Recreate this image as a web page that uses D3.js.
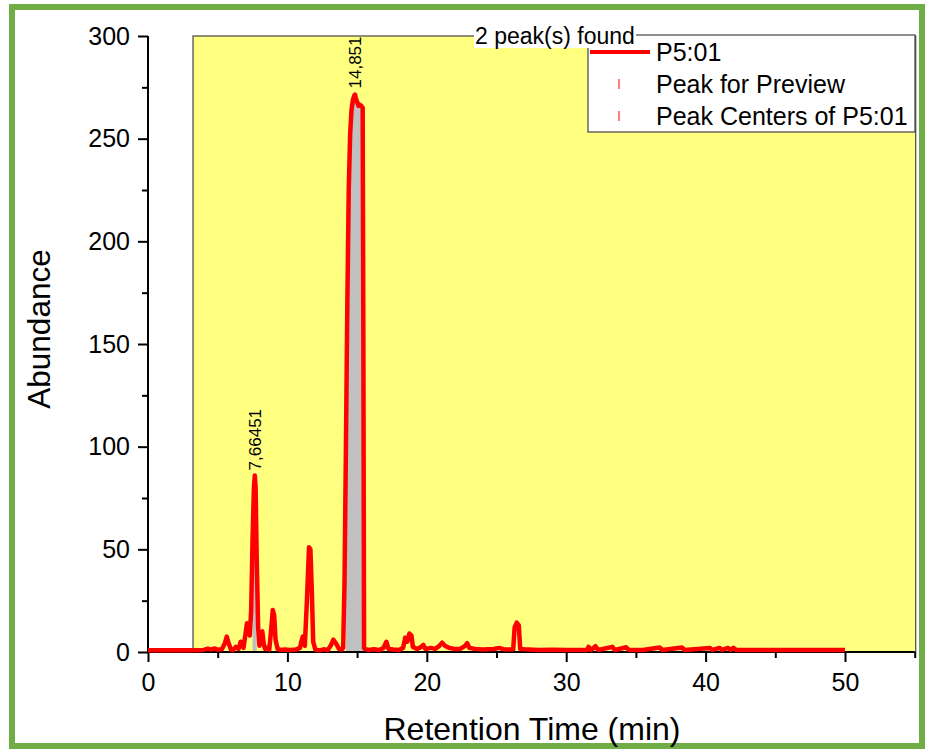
<!DOCTYPE html>
<html>
<head>
<meta charset="utf-8">
<script src="https://cdn.jsdelivr.net/npm/d3@7"></script>
<style>
  html, body { margin: 0; padding: 0; background: #fff; }
  svg { display: block; font-family: "Liberation Sans", Arial, sans-serif; }
</style>
</head>
<body>
<div id="chart"></div>
<script>
// chromatogram P5:01 as [time, abundance]
const times = [0, 1, 2, 3, 4, 4.3, 4.5, 4.8, 5.0, 5.3, 5.5, 5.65, 5.8, 5.95, 6.1, 6.3, 6.5, 6.65, 6.75, 6.85,
  7.0, 7.1, 7.2, 7.3, 7.4, 7.5, 7.6, 7.66, 7.72, 7.8, 7.9, 8.0, 8.1, 8.2, 8.3, 8.4, 8.55, 8.7, 8.85, 8.95,
  9.05, 9.15, 9.3, 9.5, 9.8, 10.2, 10.6, 10.9, 11.0, 11.1, 11.25, 11.4, 11.55, 11.65, 11.75, 11.85, 12.0, 12.3, 12.6, 12.9,
  13.1, 13.3, 13.5, 13.7, 13.9, 14.0, 14.1, 14.2, 14.3, 14.4, 14.5, 14.6, 14.7, 14.8, 14.85, 14.9, 15.0, 15.1, 15.2, 15.3,
  15.4, 15.45, 15.5, 15.55, 15.8, 16.2, 16.6, 16.9, 17.1, 17.25, 17.6, 18.0, 18.3, 18.45, 18.6, 18.75, 18.9, 19.0, 19.3, 19.6,
  19.75, 19.9, 20.3, 20.6, 20.9, 21.1, 21.3, 21.6, 22.0, 22.4, 22.75, 22.9, 23.05, 23.5, 24.0, 24.8, 25.2, 25.6, 26.2, 26.3,
  26.45, 26.6, 26.7, 27.0, 28, 29, 30, 31.5, 31.6, 31.8, 32.1, 32.3, 33.3, 33.5, 34.3, 34.5, 35.5, 36.7, 36.9, 38.3,
  38.5, 40.3, 40.5, 41.0, 41.2, 41.6, 41.8, 42.0, 42.2, 44, 46, 48, 50];
const abundance = [0.8, 0.8, 0.8, 0.9, 1, 1.6, 1.2, 1.7, 1.1, 1.3, 4, 7.5, 4, 1.2, 0.9, 2.5, 1.5, 5, 4, 2,
  9, 14, 13.5, 8, 20, 55, 80, 86, 80, 45, 12, 3, 9.5, 10, 4, 1.5, 2, 1.2, 12, 20.5,
  18, 6, 1.5, 1, 1.2, 1, 1.2, 2, 5, 7.5, 3, 25, 51, 50, 30, 5, 1.2, 0.8, 1.3, 1,
  3, 6, 4, 1.5, 1.2, 2, 35, 100, 170, 225, 252, 264, 269, 271, 271.5, 270, 268, 266, 266.5, 266,
  265, 150, 2, 1.5, 1, 1.3, 1, 2, 5, 1.5, 1.2, 1, 2, 7, 5, 9, 8, 2.5, 1.5, 2.5,
  3.5, 1.5, 2, 1.5, 3, 4.5, 3, 2, 1.5, 1.5, 3, 4.3, 2, 1.5, 1.2, 1.5, 2, 1.2, 1.3, 12,
  14.3, 13, 1.5, 1.3, 1, 1.1, 1, 1, 2.5, 1, 2.8, 1, 2.5, 1, 2.3, 1, 1, 2.2, 1, 2.2,
  1, 2, 1, 2, 1, 2, 1, 2, 1, 1, 1, 1, 1];

const peakCenters = [7.66451, 14.851];
const peakLabels = ['7,66451', '14,851'];
const peakTops = [86, 272];
const peakRanges = [[7.45, 7.85], [14.2, 15.45]];
const previewRange = [3.23, 55];

const xTicks = [0, 10, 20, 30, 40, 50];
const xMinor = [5, 15, 25, 35, 45, 55];
const yTicks = [0, 50, 100, 150, 200, 250, 300];
const yMinor = [25, 75, 125, 175, 225, 275];

const legendItems = ['P5:01', 'Peak for Preview', 'Peak Centers of P5:01'];

const width = 925;
const height = 749;
const data = times.map((t, i) => ({ t: t, v: abundance[i] }));

const svg = d3.select('#chart').append('svg')
  .attr('width', width)
  .attr('height', height);

// green frame
svg.append('rect')
  .attr('x', 12).attr('y', 7)
  .attr('width', 910).attr('height', 739)
  .attr('fill', '#fff')
  .attr('stroke', '#70ad47')
  .attr('stroke-width', 6);

const x = d3.scaleLinear().domain([0, 55]).range([148, 914.7]);
const y = d3.scaleLinear().domain([0, 300]).range([652, 36]);

// preview region
svg.append('rect')
  .attr('x', x(previewRange[0]))
  .attr('y', y(300))
  .attr('width', x(previewRange[1]) - x(previewRange[0]) + 1)
  .attr('height', y(0) - y(300))
  .attr('fill', '#ffff80')
  .attr('stroke', '#444')
  .attr('stroke-width', 1.2);

// peak areas
const area = d3.area()
  .x((d) => x(d.t))
  .y0(y(0))
  .y1((d) => y(d.v));
peakRanges.forEach((r) => {
  svg.append('path')
    .datum(data.filter((d) => d.t >= r[0] && d.t <= r[1]))
    .attr('d', area)
    .attr('fill', '#c0c0c0');
});

// baseline
svg.append('line')
  .attr('x1', x(previewRange[0])).attr('x2', x(50))
  .attr('y1', y(0.2)).attr('y2', y(0.2))
  .attr('stroke', '#d08a50')
  .attr('stroke-width', 1);

// axes
const yAxis = svg.append('g')
  .attr('transform', `translate(${x(0)},0)`)
  .call(d3.axisLeft(y).tickValues(yTicks).tickSize(10).tickPadding(8));
svg.append('g')
  .attr('transform', `translate(${x(0)},0)`)
  .call(d3.axisLeft(y).tickValues(yMinor).tickSize(6).tickFormat(''))
  .select('.domain').remove();

const xAxis = svg.append('g')
  .attr('transform', `translate(0,${y(0)})`)
  .call(d3.axisBottom(x).tickValues(xTicks).tickSize(10).tickPadding(11));
svg.append('g')
  .attr('transform', `translate(0,${y(0)})`)
  .call(d3.axisBottom(x).tickValues(xMinor).tickSize(6).tickFormat(''))
  .select('.domain').remove();

svg.selectAll('.domain').attr('stroke', '#000').attr('stroke-width', 2);
svg.selectAll('.tick line').attr('stroke', '#000').attr('stroke-width', 2);
svg.selectAll('.tick text')
  .attr('fill', '#000')
  .style('font-size', '25px')
  .style('font-family', '"Liberation Sans", Arial, sans-serif');
yAxis.selectAll('.domain').attr('d', `M-0,${y(300)}H0V${y(0)}H-0`);
xAxis.selectAll('.domain').attr('d', `M${x(0)},0V0H${x(55)}V0`);

// the chromatogram
const line = d3.line()
  .x((d) => x(d.t))
  .y((d) => y(d.v));
svg.append('path')
  .datum(data)
  .attr('d', line)
  .attr('fill', 'none')
  .attr('stroke', '#ff0000')
  .attr('stroke-width', 4.5)
  .attr('stroke-linejoin', 'round');

// peak labels
peakCenters.forEach((c, i) => {
  svg.append('text')
    .attr('transform', `translate(${x(c) + 6},${y(peakTops[i]) - 5}) rotate(-90)`)
    .attr('font-size', 17)
    .attr('fill', '#000')
    .text(peakLabels[i]);
});

// axis titles
svg.append('text')
  .attr('transform', `translate(50,329) rotate(-90)`)
  .attr('text-anchor', 'middle')
  .attr('font-size', 31.5)
  .text('Abundance');
svg.append('text')
  .attr('x', 532)
  .attr('y', 740)
  .attr('text-anchor', 'middle')
  .attr('font-size', 32)
  .text('Retention Time (min)');

// legend
const legend = svg.append('g');
legend.append('rect')
  .attr('x', 588).attr('y', 35)
  .attr('width', 327).attr('height', 97)
  .attr('fill', '#fff')
  .attr('stroke', '#444')
  .attr('stroke-width', 1.2);
legend.append('rect')
  .attr('x', 474).attr('y', 30)
  .attr('width', 114).attr('height', 18)
  .attr('fill', '#fff');
legend.append('rect')
  .attr('x', 474).attr('y', 24)
  .attr('width', 162).attr('height', 24)
  .attr('fill', '#fff');
legend.append('text')
  .attr('x', 475).attr('y', 44)
  .attr('font-size', 23)
  .text('2 peak(s) found');

legendItems.forEach((name, i) => {
  const cy = 52 + i * 32;
  if (i == 0) {
    legend.append('line')
      .attr('x1', 590).attr('x2', 650)
      .attr('y1', cy).attr('y2', cy)
      .attr('stroke', '#ff0000')
      .attr('stroke-width', 4);
  }
  else {
    legend.append('line')
      .attr('x1', 619).attr('x2', 619)
      .attr('y1', cy - 5).attr('y2', cy + 5)
      .attr('stroke', '#ff8080')
      .attr('stroke-width', 2);
  }
  legend.append('text')
    .attr('x', 656).attr('y', cy + 8.5)
    .attr('font-size', 25)
    .text(name);
});
</script>
</body>
</html>
